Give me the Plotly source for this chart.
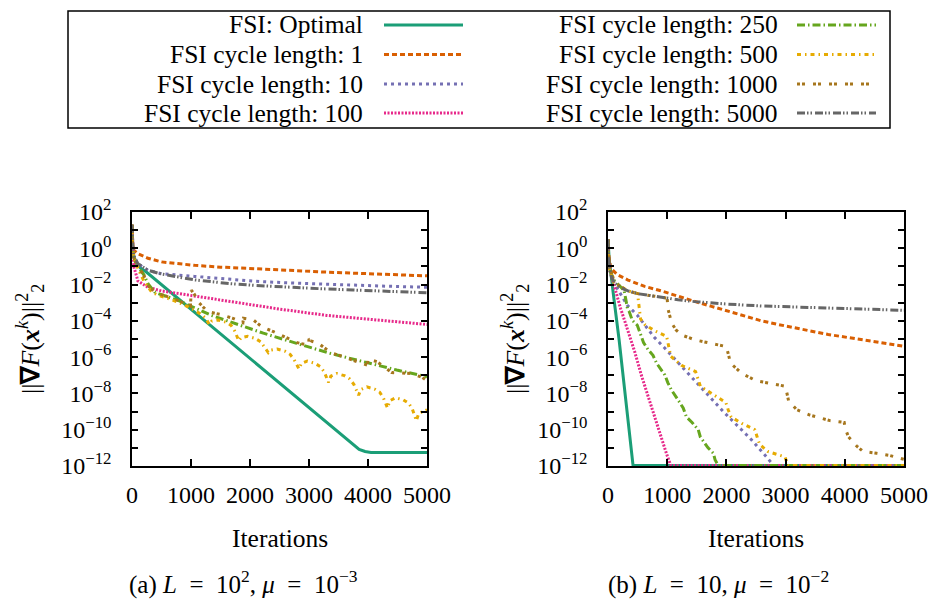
import plotly.graph_objects as go

# ------------------------------------------------------------------ data
series_names = ["FSI: Optimal", "FSI cycle length: 1", "FSI cycle length: 10",
                "FSI cycle length: 100", "FSI cycle length: 250", "FSI cycle length: 500",
                "FSI cycle length: 1000", "FSI cycle length: 5000"]

x_tick_vals = [0, 1000, 2000, 3000, 4000, 5000]
x_tick_text = ["0", "1000", "2000", "3000", "4000", "5000"]
y_tick_exps = list(range(-12, 3))          # one tick per decade, label every second

# values are given as log10 of ||grad F(x^k)||^2
# ---- panel (a): L = 10^2, mu = 10^-3
a_opt_x = [0, 20, 60, 150, 243, 1000, 2000, 3000, 3700, 3850, 3950, 4050, 5000]
a_opt_y = [1.3, -0.3, -0.8, -1.1, -1.31, -3.37, -6.09, -8.81, -10.71, -11.08, -11.2, -11.25, -11.25]

a_c1_x = [0, 10, 30, 100, 270, 500, 1060, 1500, 2100, 2600, 3200, 3750, 4300, 5000]
a_c1_y = [1.3, 0.3, -0.1, -0.3, -0.55, -0.75, -0.94, -1.04, -1.13, -1.22, -1.3, -1.37, -1.44, -1.52]

a_c10_x = [0, 10, 30, 100, 270, 500, 1060, 1660, 2100, 2600, 3200, 3750, 4300, 5000]
a_c10_y = [1.3, 0.2, -0.4, -0.85, -1.21, -1.4, -1.55, -1.72, -1.82, -1.9, -1.98, -2.04, -2.09, -2.15]

a_c100_x = [0, 10, 30, 100, 270, 500, 1000, 1660, 2500, 3300, 4100, 5000]
a_c100_y = [1.3, 0.0, -1.0, -1.8, -2.15, -2.35, -2.6, -2.95, -3.35, -3.7, -3.95, -4.2]

a_c250_x = [0, 10, 30, 100, 200, 271, 384, 497, 780, 1062, 1345, 1661, 2226, 2791, 3356, 3921, 4486, 5000]
a_c250_y = [1.3, 0.1, -0.5, -1.0, -1.45, -1.95, -2.41, -2.56, -2.87, -3.3, -3.7, -4.05, -4.68, -5.24,
            -5.79, -6.25, -6.71, -7.08]

a_c500_x = [0, 10, 30, 100, 200, 330, 450, 600, 800, 1000, 1150, 1250, 1310,
            1350, 1460, 1590, 1680, 1740, 1810,
            1850, 1960, 2090, 2180, 2240, 2310,
            2350, 2460, 2590, 2680, 2750, 2830,
            2870, 2970, 3100, 3190, 3260, 3330,
            3370, 3470, 3600, 3690, 3760, 3840,
            3880, 3980, 4110, 4200, 4260, 4330,
            4370, 4470, 4600, 4690, 4750, 4820,
            4860, 4950, 5000]
a_c500_y = [1.3, 0.1, -0.5, -1.1, -1.8, -2.4, -2.6, -2.75, -3.0, -3.3, -3.6, -3.85, -4.2,
            -4.02, -3.95, -4.07, -4.25, -4.55, -5.1,
            -4.93, -4.85, -4.97, -5.15, -5.45, -5.75,
            -5.61, -5.55, -5.67, -5.85, -6.15, -6.65,
            -6.35, -6.22, -6.34, -6.52, -6.82, -7.4,
            -7.05, -6.9, -7.02, -7.2, -7.5, -8.1,
            -7.78, -7.64, -7.76, -7.94, -8.24, -8.8,
            -8.4, -8.24, -8.36, -8.54, -8.84, -9.5,
            -9.1, -8.95, -8.9]

a_c1000_x = [0, 10, 30, 100, 200, 300, 500, 800, 990, 1005, 1060, 1120, 1240, 1300, 1500, 1700,
             1880, 1890, 2056, 2198, 2400, 2593, 2800, 2990, 3000, 3045, 3160, 3360, 3550, 3750,
             3990, 4000, 4150, 4230, 4400, 4710, 4910, 5000]
a_c1000_y = [1.3, 0.1, -0.5, -1.0, -1.5, -2.2, -2.55, -2.9, -3.2, -2.3, -2.55, -2.95, -3.35, -3.5,
             -3.65, -3.85, -4.1, -3.86, -3.95, -4.32, -4.6, -4.87, -5.2, -5.35, -5.0, -5.12, -5.24,
             -5.73, -5.95, -6.16, -6.45, -6.1, -6.25, -6.43, -6.85, -6.9, -7.1, -7.3]

a_c5000_x = [0, 10, 30, 100, 270, 500, 1060, 1660, 2100, 2600, 3200, 3750, 4300, 5000]
a_c5000_y = [1.3, 0.2, -0.4, -0.85, -1.21, -1.42, -1.74, -1.95, -2.05, -2.15, -2.23, -2.3, -2.37, -2.45]

# ---- panel (b): L = 10, mu = 10^-2
b_opt_x = [0, 20, 100, 186, 423, 5000]
b_opt_y = [0.5, -0.6, -2.78, -5.0, -11.97, -11.97]

b_c1_x = [0, 10, 45, 157, 338, 495, 620, 900, 1184, 1466, 1748, 2029, 2311, 2593, 2875, 3157,
          3439, 3720, 4002, 4284, 4566, 5000]
b_c1_y = [0.5, -0.3, -1.1, -1.45, -1.75, -1.95, -2.1, -2.35, -2.65, -2.93, -3.2, -3.48, -3.75,
          -4.0, -4.2, -4.4, -4.57, -4.75, -4.9, -5.05, -5.2, -5.4]

b_c10_x = [0, 10, 30, 100, 242, 326, 495, 664, 777, 958, 1240, 1385, 1554, 1723, 1948, 2174,
           2399, 2624, 2800, 5000]
b_c10_y = [0.5, -0.5, -1.2, -1.9, -2.68, -3.14, -3.69, -4.43, -4.89, -5.5, -6.5, -7.0, -7.6, -8.2,
           -9.0, -9.74, -10.47, -11.3, -11.97, -11.97]

b_c100_x = [0, 10, 30, 100, 157, 214, 270, 326, 383, 451, 564, 676, 789, 902, 986, 1060, 5000]
b_c100_y = [0.5, -0.5, -1.2, -2.0, -2.78, -3.33, -3.88, -4.43, -4.98, -5.7, -7.0, -8.17, -9.3,
            -10.5, -11.3, -11.97, -11.97]

b_c250_x = [0, 10, 30, 100, 250, 270, 300, 330, 360, 410, 495, 530, 560, 600, 680, 760, 820,
            960, 1010, 1070, 1184, 1270, 1325, 1420, 1525, 1560, 1690, 1780, 1810, 1863, 5000]
b_c250_y = [0.5, -0.5, -1.2, -1.75, -2.25, -2.3, -2.8, -3.35, -3.5, -3.97, -4.24, -4.6, -4.9,
            -5.2, -5.6, -5.9, -6.33, -6.98, -7.4, -7.8, -8.36, -8.8, -9.3, -9.6, -10.0, -10.4,
            -11.0, -11.3, -11.67, -11.97, -11.97]

b_c500_x = [0, 10, 30, 100, 338, 500, 510, 530, 550, 620, 790, 990, 1020, 1060, 1240, 1480,
            1520, 1560, 1700, 1900, 1990, 2030, 2080, 2260, 2480, 2520, 2560, 2700, 2990, 3040, 5000]
b_c500_y = [0.5, -0.5, -1.2, -1.9, -2.35, -2.5, -2.8, -3.3, -3.9, -4.2, -4.55, -4.85, -5.3,
            -5.95, -6.45, -6.8, -7.2, -7.6, -7.9, -8.3, -8.5, -8.9, -9.3, -9.65, -10.0, -10.4,
            -10.8, -11.2, -11.5, -11.97, -11.97]

b_c1000_x = [0, 10, 45, 113, 338, 500, 700, 1000, 1010, 1076, 1150, 1245, 1470, 1750, 2000,
             2030, 2070, 2260, 2500, 2750, 2990, 3020, 3050, 3190, 3410, 3750, 3990, 4010, 4060,
             4200, 4310, 4540, 4760, 5000]
b_c1000_y = [0.5, -0.5, -1.2, -1.92, -2.35, -2.5, -2.6, -2.75, -3.3, -4.13, -4.5, -4.78, -5.05,
             -5.23, -5.42, -5.8, -6.33, -6.9, -7.3, -7.45, -7.6, -7.95, -8.4, -8.9, -9.19, -9.5,
             -9.6, -9.95, -10.38, -10.9, -11.2, -11.3, -11.42, -11.63]

b_c5000_x = [0, 10, 30, 60, 113, 200, 338, 500, 700, 900, 1184, 1466, 1748, 2029, 2593, 3157,
             3720, 4284, 5000]
b_c5000_y = [0.5, -0.5, -1.2, -1.6, -1.92, -2.15, -2.35, -2.5, -2.6, -2.7, -2.84, -2.94, -3.02,
             -3.08, -3.18, -3.24, -3.30, -3.35, -3.42]

panel_a = [(a_opt_x, a_opt_y), (a_c1_x, a_c1_y), (a_c10_x, a_c10_y), (a_c100_x, a_c100_y),
           (a_c250_x, a_c250_y), (a_c500_x, a_c500_y), (a_c1000_x, a_c1000_y), (a_c5000_x, a_c5000_y)]
panel_b = [(b_opt_x, b_opt_y), (b_c1_x, b_c1_y), (b_c10_x, b_c10_y), (b_c100_x, b_c100_y),
           (b_c250_x, b_c250_y), (b_c500_x, b_c500_y), (b_c1000_x, b_c1000_y), (b_c5000_x, b_c5000_y)]

# ------------------------------------------------------------------ styles
colors = ["#1b9e77", "#d95f02", "#7570b3", "#e7298a", "#66a61e", "#e6ab02", "#a6761d", "#666666"]
dashes = ["solid", "5px,3px", "3px,4px", "2px,1.5px", "8px,3px,1.5px,3px",
          "4px,4px,1.5px,4px", "3px,2px,3px,8px", "8px,2px,1.5px,2px,1.5px,3px"]
FONT = "Liberation Serif"
W, H = 930, 600
LW = 3


def px(x):
    return x / W


def py(y):
    return 1 - y / H


fig = go.Figure()
for panel, (xa, ya) in ((panel_a, ("x", "y")), (panel_b, ("x2", "y2"))):
    for i, (xs, ls) in enumerate(panel):
        fig.add_trace(go.Scatter(
            x=xs, y=[10 ** v for v in ls], mode="lines", name=series_names[i],
            line=dict(color=colors[i], width=LW, dash=dashes[i]),
            xaxis=xa, yaxis=ya, showlegend=False, hoverinfo="skip"))


def sup_label(k):
    s = str(k).replace("-", "\u2212")
    return "10<sup>" + s + "</sup>" if k % 2 == 0 else ""


y_vals = [10.0 ** k for k in y_tick_exps]
y_text = [sup_label(k) for k in y_tick_exps]

tickfont = dict(family=FONT, size=24, color="black")
xcommon = dict(range=[0, 5000], tickvals=x_tick_vals, ticktext=x_tick_text, ticks="inside",
               ticklen=7, tickwidth=1.5, tickcolor="black", showline=True, linecolor="black",
               linewidth=1.5, mirror="ticks", showgrid=False, zeroline=False,
               tickfont=tickfont, ticklabelstandoff=6, automargin=False)
ycommon = dict(type="log", range=[-12, 2], tickvals=y_vals, ticktext=y_text, ticks="inside",
               ticklen=6, tickwidth=1.5, tickcolor="black", showline=True, linecolor="black",
               linewidth=1.5, mirror="ticks", showgrid=False, zeroline=False,
               tickfont=tickfont, ticklabelstandoff=14, automargin=False)

ydom = [py(466), py(212)]
fig.update_layout(
    width=W, height=H, autosize=False,
    margin=dict(l=0, r=0, t=0, b=0, pad=0, autoexpand=False),
    paper_bgcolor="white", plot_bgcolor="white",
    font=dict(family=FONT, size=24, color="black"),
    xaxis=dict(domain=[px(132), px(427)], anchor="y", **xcommon),
    yaxis=dict(domain=ydom, anchor="x", **ycommon),
    xaxis2=dict(domain=[px(608), px(904)], anchor="y2", **xcommon),
    yaxis2=dict(domain=ydom, anchor="x2", **ycommon),
    showlegend=False,
)

annotations = []
shapes = []

# legend box
shapes.append(dict(type="rect", xref="paper", yref="paper", x0=px(68), x1=px(890),
                   y0=py(128), y1=py(11), line=dict(color="black", width=1.5)))
row_y = [25, 54.5, 84, 113]
col_text_right = [365, 780]
col_line = [(384, 463), (797, 876)]
for i, name in enumerate(series_names):
    c, r = divmod(i, 4)
    annotations.append(dict(text=name, xref="paper", yref="paper", x=px(col_text_right[c]),
                            y=py(row_y[r]), xanchor="right", yanchor="middle", showarrow=False,
                            font=dict(family=FONT, size=25.5, color="black")))
    shapes.append(dict(type="line", xref="paper", yref="paper", x0=px(col_line[c][0]),
                       x1=px(col_line[c][1]), y0=py(row_y[r]), y1=py(row_y[r]),
                       line=dict(color=colors[i], width=LW, dash=dashes[i])))

ytitle = "||<b>\u2207</b><i>F</i>(<b><i>x</i></b><sup><i>k</i></sup>)||<sup>2</sup><sub>2</sub>"
for xc in (30, 515):
    annotations.append(dict(text=ytitle, xref="paper", yref="paper", x=px(xc), y=py(339),
                            textangle=-90, xanchor="center", yanchor="middle", showarrow=False,
                            font=dict(family=FONT, size=26, color="black")))
for xc in (279.5, 756):
    annotations.append(dict(text="Iterations", xref="paper", yref="paper", x=px(xc), y=py(538),
                            xanchor="center", yanchor="middle", showarrow=False,
                            font=dict(family=FONT, size=25.5, color="black")))
EN = "\u2002"
captions = ["(a) <i>L</i>" + EN + "=" + EN + "10<sup>2</sup>, <i>\u03bc</i>" + EN + "=" + EN + "10<sup>\u22123</sup>",
            "(b) <i>L</i>" + EN + "=" + EN + "10, <i>\u03bc</i>" + EN + "=" + EN + "10<sup>\u22122</sup>"]
for xc, cap in zip((243, 718), captions):
    annotations.append(dict(text=cap, xref="paper", yref="paper", x=px(xc), y=py(582),
                            xanchor="center", yanchor="middle", showarrow=False,
                            font=dict(family=FONT, size=25, color="black")))

fig.update_layout(annotations=annotations, shapes=shapes)
fig.write_html("out.html", config={"displayModeBar": False},
               post_script="document.body.style.margin='0px';")
